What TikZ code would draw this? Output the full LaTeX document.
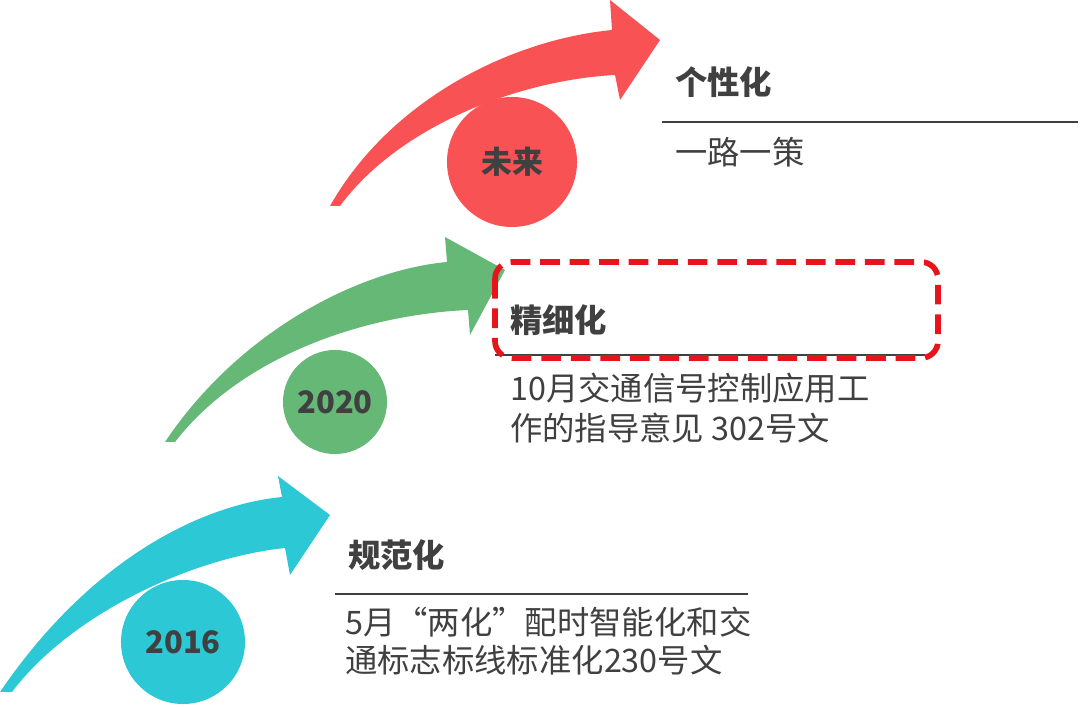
\documentclass[tikz,border=0pt]{standalone}
\usepackage{fontspec}
\setmainfont{Noto Sans CJK SC}
\usetikzlibrary{positioning}
\definecolor{cyanA}{HTML}{2CC8D6}
\definecolor{greenA}{HTML}{66B877}
\definecolor{redA}{HTML}{F95254}
\definecolor{dashred}{HTML}{E8141C}
\definecolor{txt}{HTML}{404040}
\tikzset{
  yearball/.style={circle,inner sep=0pt,minimum size=#1,text=txt,font=\fontsize{22}{22}\selectfont\bfseries},
  headline/.style={anchor=west,inner sep=0pt,text=txt,font=\fontsize{23}{23}\selectfont\bfseries},
  bodyline/.style={anchor=west,inner sep=0pt,text=txt,font=\fontsize{23}{23}\selectfont},
  rule/.style={line width=0.8pt,draw=txt}
}
\begin{document}
\begin{tikzpicture}[x=0.025cm,y=-0.025cm]
\useasboundingbox (0,0) rectangle (1080,707);
% arrows
\fill[cyanA] (0,692) .. controls (90,560) and (200,505) .. (282,497)
  -- (278,476) -- (330,515) -- (290,575) -- (285,548)
  .. controls (190,558) and (70,615) .. (12,692) -- cycle;
\fill[greenA] (165,442) .. controls (240,330) and (360,270) .. (447,262)
  -- (445,237) -- (505,270) -- (470,335) -- (468,310)
  .. controls (360,315) and (240,358) .. (175,442) -- cycle;
\fill[redA] (330,206) .. controls (390,100) and (510,40) .. (612,30)
  -- (610,0) -- (660,40) -- (620,100) -- (615,75)
  .. controls (520,80) and (400,125) .. (340,206) -- cycle;
% balls
\node[yearball=3.1cm,fill=cyanA] (y2016) at (183,642) {2016};
\node[yearball=2.6cm,fill=greenA] (y2020) at (335,402) {2020};
\node[yearball=3.25cm,fill=redA] (yfut) at (512,162) {未来};
% texts
\node[headline] (t3) at (675,82) {个性化};
\draw[rule] (662,122) -- (1078,122);
\node[bodyline] (b3) at (675,152) {一路一策};
\node[headline] (t2) at (510,320) {精细化};
\draw[rule] (495,355) -- (925,355);
\draw[dashred,line width=4pt,dash pattern=on 14pt off 7pt,rounded corners=12pt]
  (495,262) rectangle (938,358);
\node[bodyline] (b2a) at (510,388) {10月交通信号控制应用工};
\node[bodyline] (b2b) at (510,428) {作的指导意见 302号文};
\node[headline] (t1) at (348,555) {规范化};
\draw[rule] (335,594) -- (748,594);
\node[bodyline] (b1a) at (345,622) {5月“两化”配时智能化和交};
\node[bodyline] (b1b) at (345,660) {通标志标线标准化230号文};
\end{tikzpicture}
\end{document}
